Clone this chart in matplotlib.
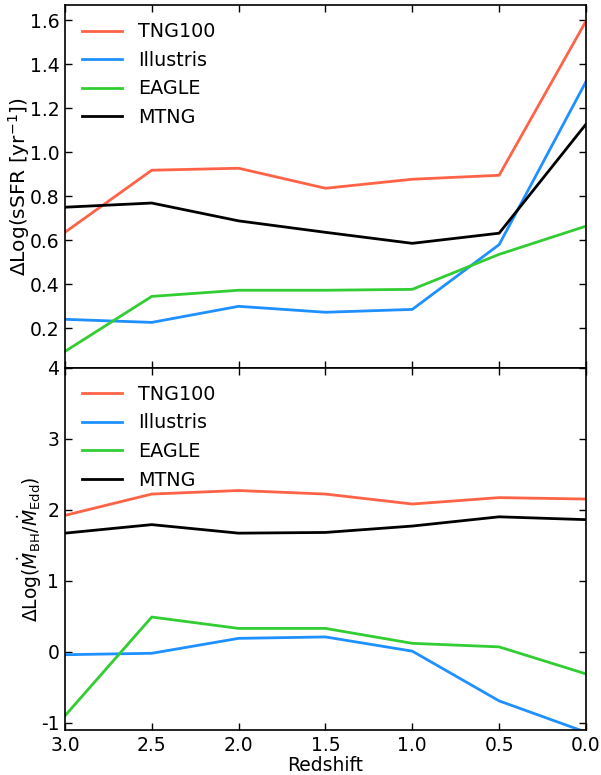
import matplotlib
matplotlib.use("Agg")
import matplotlib.pyplot as plt

plt.rcParams["axes.unicode_minus"] = False

redshift = [3.0, 2.5, 2.0, 1.5, 1.0, 0.5, 0.0]
names = ["TNG100", "Illustris", "EAGLE", "MTNG"]
colors = ["#FF6347", "#1E90FF", "#32CD32", "black"]

# Delta log sSFR
ssfr_tng100 = [0.636, 0.918, 0.927, 0.836, 0.877, 0.895, 1.595]
ssfr_illustris = [0.241, 0.227, 0.300, 0.273, 0.286, 0.580, 1.320]
ssfr_eagle = [0.095, 0.345, 0.373, 0.373, 0.377, 0.536, 0.664]
ssfr_mtng = [0.750, 0.769, 0.688, 0.636, 0.586, 0.632, 1.127]

# Delta log Eddington ratio
edd_tng100 = [1.92, 2.22, 2.27, 2.22, 2.08, 2.17, 2.15]
edd_illustris = [-0.04, -0.02, 0.19, 0.21, 0.01, -0.69, -1.13]
edd_eagle = [-0.90, 0.49, 0.33, 0.33, 0.12, 0.07, -0.31]
edd_mtng = [1.67, 1.79, 1.67, 1.68, 1.77, 1.90, 1.86]

fig, (ax1, ax2) = plt.subplots(2, 1, sharex=True, figsize=(6.01, 7.75), dpi=100)
fig.subplots_adjust(left=0.108, right=0.975, top=0.9935, bottom=0.058, hspace=0)

for ys, name, c in zip([ssfr_tng100, ssfr_illustris, ssfr_eagle, ssfr_mtng], names, colors):
    ax1.plot(redshift, ys, color=c, lw=2, label=name)
for ys, name, c in zip([edd_tng100, edd_illustris, edd_eagle, edd_mtng], names, colors):
    ax2.plot(redshift, ys, color=c, lw=2, label=name)

ax1.set_xlim(3.0, 0.0)
ax1.set_ylim(0.022, 1.668)
ax2.set_ylim(-1.1, 4.0)
ax1.set_yticks([0.2, 0.4, 0.6, 0.8, 1.0, 1.2, 1.4, 1.6])
ax2.set_yticks([-1, 0, 1, 2, 3, 4])
ax2.set_xticks([3.0, 2.5, 2.0, 1.5, 1.0, 0.5, 0.0])

for ax in (ax1, ax2):
    ax.tick_params(direction="in", top=True, right=True, length=5, width=1,
                   labelsize=13.5, pad=4)
    for s in ax.spines.values():
        s.set_linewidth(1.2)
    ax.legend(loc="upper left", frameon=False, fontsize=13.8, handlelength=2.1,
              handletextpad=0.8, borderaxespad=0.5, labelspacing=0.5)

ax1.set_ylabel(r"$\Delta$Log(sSFR [yr$^{-1}$])", fontsize=14.5, labelpad=-1.5)
ax2.set_ylabel(r"$\Delta$Log($\dot{M}_{\rm BH}/\dot{M}_{\rm Edd}$)", fontsize=13.5,
               labelpad=-2)
ax2.set_xlabel("Redshift", fontsize=13.5, labelpad=1)

fig.savefig("out.png", dpi=100)
